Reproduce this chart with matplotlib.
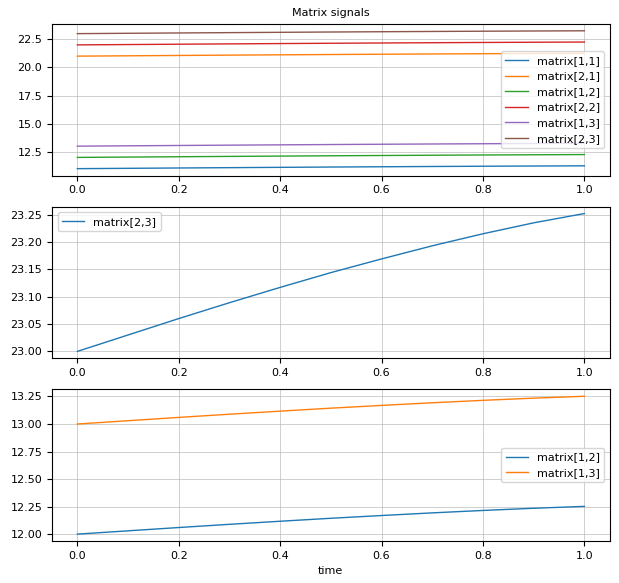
import matplotlib
matplotlib.use("Agg")
import numpy as np
import matplotlib.pyplot as plt

# sample times and signal values
time = [0.0, 0.1, 0.2, 0.3, 0.4, 0.5, 0.6, 0.7, 0.8, 0.9, 1.0]
m11 = [11.000, 11.030, 11.060, 11.089, 11.117, 11.144, 11.169, 11.193, 11.215, 11.235, 11.252]
m21 = [21.000, 21.030, 21.060, 21.089, 21.117, 21.144, 21.169, 21.193, 21.215, 21.235, 21.252]
m12 = [12.000, 12.030, 12.060, 12.089, 12.117, 12.144, 12.169, 12.193, 12.215, 12.235, 12.252]
m22 = [22.000, 22.030, 22.060, 22.089, 22.117, 22.144, 22.169, 22.193, 22.215, 22.235, 22.252]
m13 = [13.000, 13.030, 13.060, 13.089, 13.117, 13.144, 13.169, 13.193, 13.215, 13.235, 13.252]
m23 = [23.000, 23.030, 23.060, 23.089, 23.117, 23.144, 23.169, 23.193, 23.215, 23.235, 23.252]

top_names = ["matrix[1,1]", "matrix[2,1]", "matrix[1,2]", "matrix[2,2]", "matrix[1,3]", "matrix[2,3]"]
top_series = [m11, m21, m12, m22, m13, m23]

plt.rcParams["font.size"] = 8

fig, axes = plt.subplots(3, 1, figsize=(6.19, 5.83), dpi=100)
fig.subplots_adjust(left=0.084, right=0.985, top=0.959, bottom=0.072, hspace=0.205)

ax = axes[0]
for name, ys in zip(top_names, top_series):
    ax.plot(time, ys, lw=1, label=name)
ax.set_title("Matrix signals", fontsize=8)
ax.legend(loc="center right", fontsize=8)
ax.grid(True, lw=0.6, alpha=0.7)

ax = axes[1]
ax.plot(time, m23, lw=1, label="matrix[2,3]")
ax.legend(loc="upper left", fontsize=8)
ax.grid(True, lw=0.6, alpha=0.7)

ax = axes[2]
ax.plot(time, m12, lw=1, label="matrix[1,2]")
ax.plot(time, m13, lw=1, label="matrix[1,3]")
ax.legend(loc="center right", fontsize=8)
ax.set_xlabel("time")
ax.grid(True, lw=0.6, alpha=0.7)

fig.savefig("out.png", dpi=100)
